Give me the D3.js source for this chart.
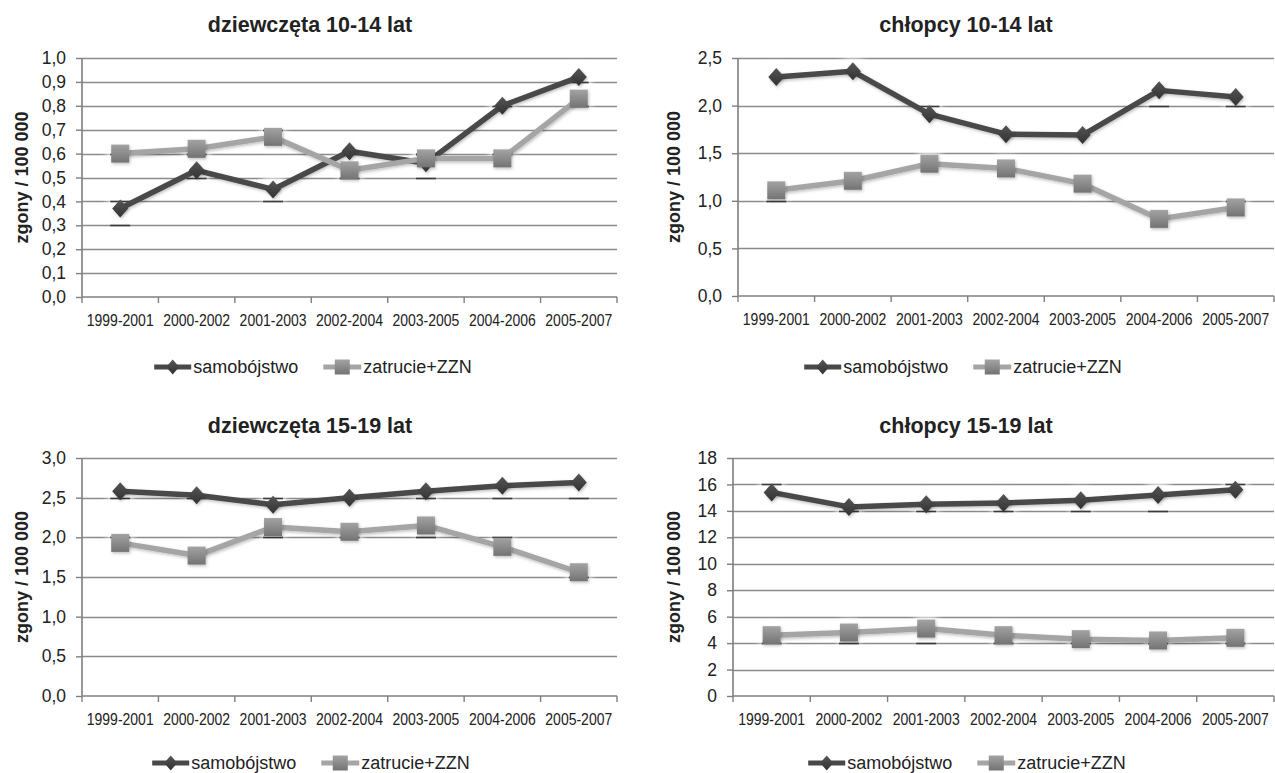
<!DOCTYPE html>
<html>
<head>
<meta charset="utf-8">
<script src="https://cdn.jsdelivr.net/npm/d3@7"></script>
<style>
  html, body { margin: 0; padding: 0; background: #fff; }
  svg { display: block; font-family: "Liberation Sans", Arial, sans-serif; }
</style>
</head>
<body>
<svg id="chart" width="1275" height="773"></svg>
<script>
// Three-year periods on the x axis
const periods = ["1999-2001", "2000-2002", "2001-2003", "2002-2004", "2003-2005", "2004-2006", "2005-2007"];

// Deaths per 100 000: suicide vs. poisoning + undetermined intent (ZZN)
const girls1014Suicide = [0.37, 0.53, 0.45, 0.61, 0.56, 0.80, 0.92];
const girls1014Poison  = [0.60, 0.62, 0.67, 0.53, 0.58, 0.58, 0.83];
const boys1014Suicide  = [2.30, 2.36, 1.91, 1.70, 1.69, 2.16, 2.09];
const boys1014Poison   = [1.11, 1.21, 1.39, 1.34, 1.18, 0.81, 0.93];
const girls1519Suicide = [2.58, 2.53, 2.41, 2.50, 2.58, 2.65, 2.69];
const girls1519Poison  = [1.93, 1.77, 2.13, 2.07, 2.15, 1.88, 1.56];
const boys1519Suicide  = [15.4, 14.3, 14.5, 14.6, 14.8, 15.2, 15.6];
const boys1519Poison   = [4.6, 4.8, 5.1, 4.6, 4.3, 4.2, 4.4];

// Y-axis tick values per panel
const ticksGirls1014 = [0, 0.1, 0.2, 0.3, 0.4, 0.5, 0.6, 0.7, 0.8, 0.9, 1.0];
const ticksBoys1014  = [0, 0.5, 1.0, 1.5, 2.0, 2.5];
const ticksGirls1519 = [0, 0.5, 1.0, 1.5, 2.0, 2.5, 3.0];
const ticksBoys1519  = [0, 2, 4, 6, 8, 10, 12, 14, 16, 18];

const seriesNames = ["samobójstwo", "zatrucie+ZZN"];
const yAxisTitle = "zgony / 100 000";

const oneDecimal = v => d3.format(".1f")(v).replace(".", ",");
const integer = v => d3.format("d")(v);

const panels = [
  { title: "dziewczęta 10-14 lat", suicide: girls1014Suicide, poison: girls1014Poison, ticks: ticksGirls1014, fmt: oneDecimal,
    x0: 82, x1: 617, yTop: 58, yBot: 297, titleX: 310, titleY: 24, legendCX: 313, legendY: 367, yTitleX: 22 },
  { title: "chłopcy 10-14 lat", suicide: boys1014Suicide, poison: boys1014Poison, ticks: ticksBoys1014, fmt: oneDecimal,
    x0: 738, x1: 1274, yTop: 58, yBot: 296, titleX: 966, titleY: 24, legendCX: 963, legendY: 367, yTitleX: 674 },
  { title: "dziewczęta 15-19 lat", suicide: girls1519Suicide, poison: girls1519Poison, ticks: ticksGirls1519, fmt: oneDecimal,
    x0: 82, x1: 617, yTop: 458, yBot: 696, titleX: 310, titleY: 425, legendCX: 311, legendY: 763, yTitleX: 22 },
  { title: "chłopcy 15-19 lat", suicide: boys1519Suicide, poison: boys1519Poison, ticks: ticksBoys1519, fmt: integer,
    x0: 733, x1: 1274, yTop: 458, yBot: 696, titleX: 966, titleY: 425, legendCX: 967, legendY: 763, yTitleX: 674 }
];

const svg = d3.select("#chart");
const defs = svg.append("defs");

// soft shadow under the markers and lines
const shadow = defs.append("filter").attr("id", "soft").attr("x", "-50%").attr("y", "-50%").attr("width", "200%").attr("height", "200%");
shadow.append("feDropShadow").attr("dx", 1).attr("dy", 1.5).attr("stdDeviation", 1.5).attr("flood-color", "#000").attr("flood-opacity", 0.25);

// pale halo the markers leave on the gridlines behind them
const halo = defs.append("filter").attr("id", "halo").attr("x", "-50%").attr("y", "-50%").attr("width", "200%").attr("height", "200%");
halo.append("feGaussianBlur").attr("stdDeviation", 3);

// marker gradients
const sqGrad = defs.append("linearGradient").attr("id", "sqGrad").attr("x1", 0).attr("y1", 0).attr("x2", 0).attr("y2", 1);
sqGrad.append("stop").attr("offset", "0%").attr("stop-color", "#a3a3a3");
sqGrad.append("stop").attr("offset", "100%").attr("stop-color", "#737373");
const dmGrad = defs.append("linearGradient").attr("id", "dmGrad").attr("x1", 0).attr("y1", 0).attr("x2", 0).attr("y2", 1);
dmGrad.append("stop").attr("offset", "0%").attr("stop-color", "#555555");
dmGrad.append("stop").attr("offset", "100%").attr("stop-color", "#323232");

const DARK_LINE = "#484848";
const LIGHT_LINE = "#a5a5a5";
const GRID = "#8a8a8a";
const AXIS = "#7f7f7f";

function diamond(g, x, y, w, h) {
  g.append("path")
    .attr("d", `M${x},${y - h / 2}L${x + w / 2},${y}L${x},${y + h / 2}L${x - w / 2},${y}Z`)
    .attr("fill", "url(#dmGrad)");
}
function square(g, x, y, s) {
  g.append("rect")
    .attr("x", x - s / 2).attr("y", y - s / 2).attr("width", s).attr("height", s)
    .attr("fill", "url(#sqGrad)");
}

panels.forEach(p => {
  const g = svg.append("g");
  const x = d3.scaleBand().domain(periods).range([p.x0, p.x1]).padding(0);
  const y = d3.scaleLinear().domain([0, d3.max(p.ticks)]).range([p.yBot, p.yTop]);
  const cx = d => x(d) + x.bandwidth() / 2;
  const gridTicks = p.ticks.filter(t => t !== 0);
  const topTick = d3.max(p.ticks);

  // gridlines
  g.append("g").selectAll("line").data(gridTicks).join("line")
    .attr("x1", p.x0).attr("x2", p.x1)
    .attr("y1", d => Math.round(y(d)) + 0.5).attr("y2", d => Math.round(y(d)) + 0.5)
    .attr("stroke", GRID).attr("stroke-width", 1.3);

  // marker halos and the short dark marks they leave where a gridline passes close by
  const allPts = p.suicide.map((v, i) => ({ x: cx(periods[i]), y: y(v) }))
    .concat(p.poison.map((v, i) => ({ x: cx(periods[i]), y: y(v) })));
  const haloG = g.append("g");
  allPts.forEach(pt => {
    haloG.append("rect").attr("x", pt.x - 13).attr("y", pt.y - 13).attr("width", 26).attr("height", 26)
      .attr("rx", 8).attr("fill", "#fff").attr("opacity", 0.75).attr("filter", "url(#halo)");
  });
  allPts.forEach(pt => {
    gridTicks.forEach(t => {
      if (t === topTick) return;
      const gy = Math.round(y(t)) + 0.5;
      const below = gy - pt.y;
      if ((below >= 0 && below < 17) || (below < 0 && -below < 10)) {
        haloG.append("line").attr("x1", pt.x - 10).attr("x2", pt.x + 10).attr("y1", gy).attr("y2", gy)
          .attr("stroke", "#3a3a3a").attr("stroke-width", 1.6);
      }
    });
  });

  // y axis
  const yAxis = d3.axisLeft(y).tickValues(p.ticks).tickFormat(p.fmt).tickSize(6).tickPadding(10);
  const ya = g.append("g").attr("transform", `translate(${p.x0},0)`).call(yAxis);
  ya.select(".domain").attr("stroke", AXIS).attr("stroke-width", 1.6).attr("d", `M0,${p.yTop}V${p.yBot}`);
  ya.selectAll(".tick line").attr("stroke", AXIS).attr("stroke-width", 1.4);
  ya.selectAll(".tick text").attr("font-size", 17.5).attr("fill", "#222").attr("font-family", "Liberation Sans, Arial, sans-serif");

  // x axis: ticks at band boundaries, labels centred in bands
  const xa = g.append("g");
  xa.append("line").attr("x1", p.x0).attr("x2", p.x1).attr("y1", p.yBot).attr("y2", p.yBot)
    .attr("stroke", AXIS).attr("stroke-width", 1.6);
  const bounds = periods.map(d => x(d)).concat([x(periods[periods.length - 1]) + x.bandwidth()]);
  xa.selectAll("line.tk").data(bounds).join("line").attr("class", "tk")
    .attr("x1", d => d).attr("x2", d => d).attr("y1", p.yBot).attr("y2", p.yBot + 6)
    .attr("stroke", AXIS).attr("stroke-width", 1.4);
  xa.selectAll("text").data(periods).join("text")
    .attr("transform", d => `translate(${x(d) + x.bandwidth() / 2},${p.yBot + 29}) scale(1,1.12)`)
    .attr("text-anchor", "middle").attr("font-size", 14).attr("fill", "#222")
    .text(d => d);

  // lines and markers
  const line = d3.line().x((d, i) => cx(periods[i])).y(d => y(d));
  const lines = g.append("g").attr("filter", "url(#soft)");
  lines.append("path").datum(p.suicide).attr("d", line).attr("fill", "none")
    .attr("stroke", DARK_LINE).attr("stroke-width", 5.5).attr("stroke-linejoin", "round");
  lines.append("path").datum(p.poison).attr("d", line).attr("fill", "none")
    .attr("stroke", LIGHT_LINE).attr("stroke-width", 5.5).attr("stroke-linejoin", "round");

  const marks = g.append("g").attr("filter", "url(#soft)");
  p.suicide.forEach((v, i) => diamond(marks, cx(periods[i]), y(v), 16, 18));
  p.poison.forEach((v, i) => square(marks, cx(periods[i]), y(v), 18));

  // title
  g.append("text").attr("x", p.titleX).attr("y", p.titleY).attr("dy", "0.35em")
    .attr("text-anchor", "middle").attr("font-size", 21.5).attr("font-weight", "bold").attr("fill", "#222")
    .text(p.title);

  // y-axis title
  g.append("text")
    .attr("transform", `translate(${p.yTitleX},${(p.yTop + p.yBot) / 2}) rotate(-90)`)
    .attr("dy", "0.35em").attr("text-anchor", "middle")
    .attr("font-size", 18).attr("font-weight", "bold").attr("fill", "#222")
    .text(yAxisTitle);

  // legend
  const lg = g.append("g");
  const item1 = lg.append("g");
  item1.append("line").attr("x1", 0).attr("x2", 37).attr("y1", 0).attr("y2", 0)
    .attr("stroke", DARK_LINE).attr("stroke-width", 5);
  diamond(item1, 18.5, 0, 13, 15);
  const t1 = item1.append("text").attr("x", 39).attr("y", 0).attr("dy", "0.35em")
    .attr("font-size", 18).attr("fill", "#222").text(seriesNames[0]);
  const w1 = 39 + t1.node().getComputedTextLength();
  const item2 = lg.append("g").attr("transform", `translate(${w1 + 25},0)`);
  item2.append("line").attr("x1", 0).attr("x2", 38).attr("y1", 0).attr("y2", 0)
    .attr("stroke", LIGHT_LINE).attr("stroke-width", 5);
  square(item2, 19, 0, 15);
  const t2 = item2.append("text").attr("x", 40).attr("y", 0).attr("dy", "0.35em")
    .attr("font-size", 18).attr("fill", "#222").text(seriesNames[1]);
  const total = w1 + 25 + 40 + t2.node().getComputedTextLength();
  lg.attr("transform", `translate(${p.legendCX - total / 2},${p.legendY})`);
});
</script>
</body>
</html>
